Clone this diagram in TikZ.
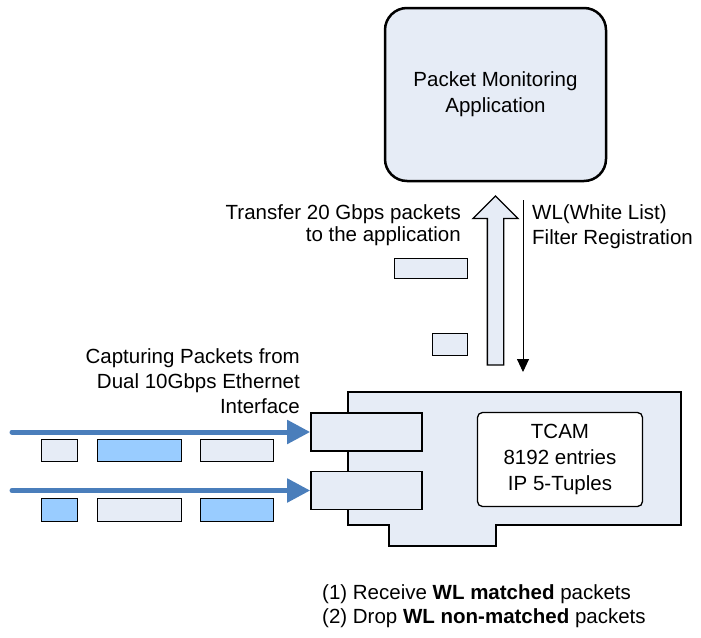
\documentclass[tikz,border=0pt]{standalone}
\usepackage{fontspec}
\setmainfont{Liberation Sans}
\usetikzlibrary{shapes.arrows,arrows.meta}
\definecolor{pklight}{HTML}{E6ECF6}
\definecolor{pkblue}{HTML}{99CCFF}
\definecolor{flowblue}{HTML}{4A7EBB}
\tikzset{
  packet/.style={rectangle, draw, line width=1.3pt, inner sep=0pt},
  port/.style={rectangle, draw, line width=1.6pt, fill=pklight, inner sep=0pt, minimum width=111, minimum height=38},
  flow/.style={line width=5pt, flowblue, line cap=round, -{Triangle[length=23pt,width=23pt]}},
  caption/.style={inner sep=0pt, font=\fontsize{20.5}{25}\selectfont}
}
\newcommand{\pktlight}[4] {\node at (#1) (#2) [packet, fill=pklight, minimum width=#3, minimum height=#4] {};}
\newcommand{\pktblue}[4] {\node at (#1) (#2) [packet, fill=pkblue, minimum width=#3, minimum height=#4] {};}
\newcommand{\flowline}[2] {\draw [flow] (#1) -- (#2);}

\begin{document}
\begin{tikzpicture}[x=1pt, y=-1pt]
\useasboundingbox (0,0) rectangle (701,637);

% application
\node at (495.5,94.5) (app) [rectangle, draw, line width=2.5pt, rounded corners=22pt, fill=pklight,
  minimum width=221, minimum height=173, align=center, caption, font=\fontsize{20.5}{26}\selectfont] {Packet Monitoring\\Application};

% transfer to the application
\node at (495.5,284.5) (xfer) [single arrow, draw, line width=1.3pt, fill=pklight, rotate=90,
  minimum height=169, inner xsep=0pt, inner ysep=7.5pt, single arrow head extend=14.5pt,
  single arrow head indent=0pt] {};
\node at (461,225) (xfertext) [anchor=east, align=right, caption, font=\fontsize{20.5}{22.5}\selectfont] {Transfer 20 Gbps packets\\to the application};
\pktlight {431,268.5}{up1}{73}{20}
\pktlight {450,344.5}{up2}{35}{22}

% filter registration
\coordinate (wltop) at (523,200);
\coordinate (wlbot) at (523,372);
\draw [line width=0.9pt, -{Triangle[length=13pt,width=12pt]}] (wltop) -- (wlbot);
\node at (532,227) (wltext) [anchor=west, align=left, caption] {WL(White List)\\Filter Registration};

% board
\draw [line width=2.5pt, fill=pklight] (348,392) -- (681,392) -- (681,525) -- (496,525)
  -- (496,546) -- (389,546) -- (389,525) -- (348,525) -- cycle;
\node at (366.5,432) (port1) [port] {};
\node at (366.5,490.5) (port2) [port] {};
\node at (560,459.5) (tcam) [rectangle, draw, line width=1.3pt, rounded corners=5pt, fill=white,
  minimum width=165, minimum height=94, align=center, caption, font=\fontsize{20.5}{26}\selectfont] {TCAM\\8192 entries\\IP 5-Tuples};

% capturing
\node at (300,381.5) (captext) [anchor=east, align=right, caption] {Capturing Packets from\\Dual 10Gbps Ethernet\\Interface};
\coordinate (in1) at (12,432);
\coordinate (in2) at (12,490.5);
\flowline {in1}{port1.west}
\flowline {in2}{port2.west}

\pktlight {59.5,450.5}{pa1}{36}{22}
\pktblue {139.5,450.5}{pa2}{84}{22}
\pktlight {237,450.5}{pa3}{73}{22}
\pktblue {59.5,510}{pb1}{36}{23}
\pktlight {139.5,510}{pb2}{84}{23}
\pktblue {237,510}{pb3}{73}{23}

% result
\node at (322,606) (result) [anchor=west, align=left, caption, font=\fontsize{20.5}{23.5}\selectfont]
  {(1) Receive \textbf{WL matched} packets\\(2) Drop \textbf{WL non-matched} packets};

\end{tikzpicture}
\end{document}
